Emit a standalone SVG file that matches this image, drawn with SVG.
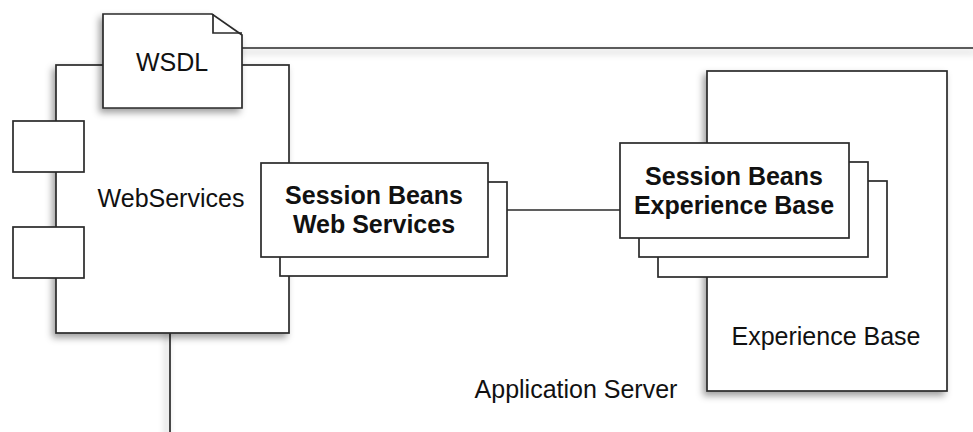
<svg xmlns="http://www.w3.org/2000/svg" width="973" height="432" viewBox="0 0 973 432">
  <defs>
    <filter id="shadow" x="-20%" y="-20%" width="140%" height="140%">
      <feDropShadow dx="-3" dy="4" stdDeviation="3.5" flood-color="#000" flood-opacity="0.38"/>
    </filter>
  </defs>
  <style>
    .shape { fill: #fff; stroke: #2a2a2a; stroke-width: 1.7; }
    .frame { fill: none; stroke: #2a2a2a; stroke-width: 1.7; }
    .line { fill: none; stroke: #2a2a2a; stroke-width: 1.7; }
    .label { font-family: "Liberation Sans", Arial, sans-serif; font-size: 25px; fill: #111; text-anchor: middle; }
    .bold { font-weight: bold; }
  </style>

  <!-- Application Server container (extends past the canvas) -->
  <g id="app-server">
    <path class="frame" d="M170,440 V48 H980" filter="url(#shadow)"/>
    <text class="label" x="576" y="398">Application Server</text>
  </g>

  <!-- WebServices component with its two ports -->
  <g id="webservices">
    <rect class="shape" x="56" y="65" width="233" height="268" filter="url(#shadow)"/>
    <rect class="shape" x="13" y="121" width="71" height="51"/>
    <rect class="shape" x="13" y="227" width="71" height="51"/>
    <text class="label" x="171" y="207">WebServices</text>
  </g>

  <!-- WSDL document with folded corner -->
  <g id="wsdl">
    <path class="shape" d="M103,14 H212 L242,35 V108 H103 Z" filter="url(#shadow)"/>
    <path class="line" d="M213,14 V33 H242"/>
    <text class="label" x="172" y="71">WSDL</text>
  </g>

  <!-- Experience Base component -->
  <g id="experience-base">
    <rect class="shape" x="707" y="71" width="240" height="320" filter="url(#shadow)"/>
    <text class="label" x="826" y="345">Experience Base</text>
  </g>

  <!-- Connectors -->
  <g id="connectors">
    <line class="line" x1="507" y1="210" x2="620" y2="210"/>
  </g>

  <!-- Session Beans (Web Services), stacked instances -->
  <g id="session-beans-ws">
    <rect class="shape" x="280" y="182" width="227" height="94"/>
    <rect class="shape" x="261" y="163" width="227" height="94"/>
    <text class="label bold" x="374" y="204">Session Beans</text>
    <text class="label bold" x="374" y="233">Web Services</text>
  </g>

  <!-- Session Beans (Experience Base), stacked instances -->
  <g id="session-beans-eb">
    <rect class="shape" x="658" y="181" width="229" height="96"/>
    <rect class="shape" x="639" y="162" width="229" height="95"/>
    <rect class="shape" x="620" y="143" width="229" height="95"/>
    <text class="label bold" x="734" y="185">Session Beans</text>
    <text class="label bold" x="734" y="214">Experience Base</text>
  </g>
</svg>
